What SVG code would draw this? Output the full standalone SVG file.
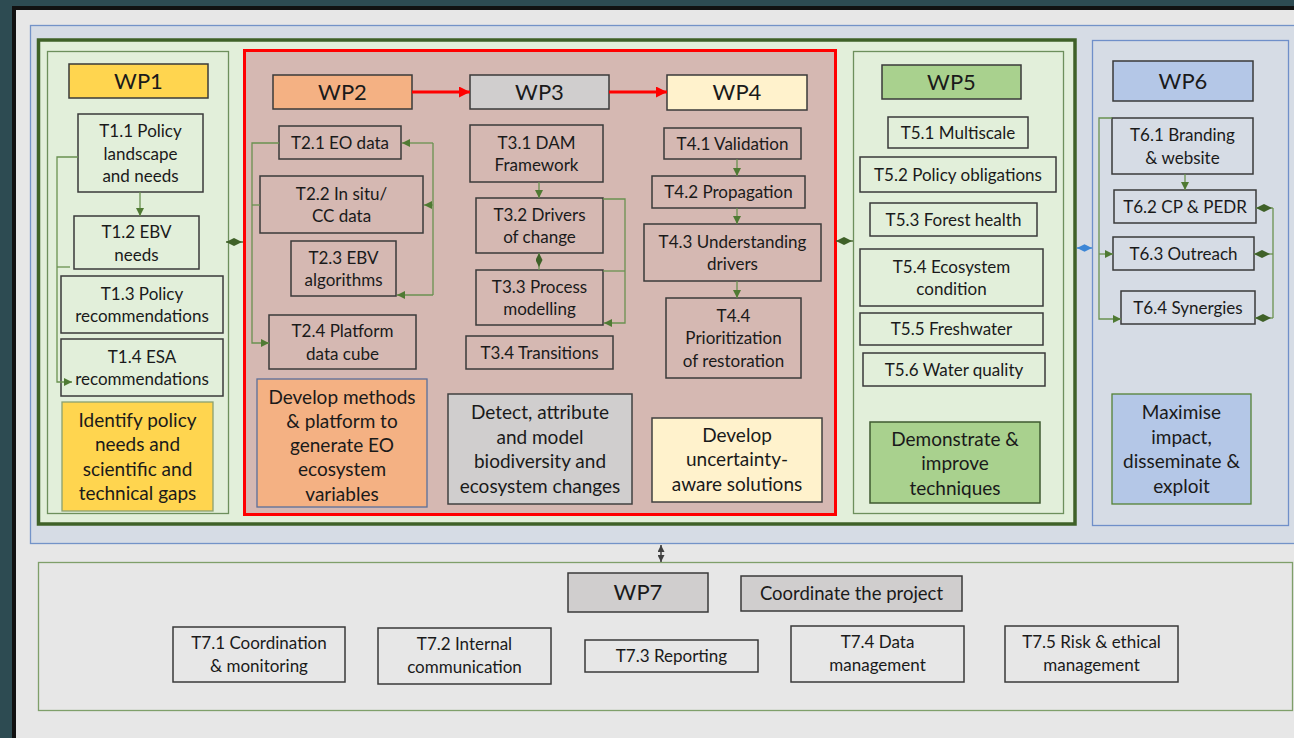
<svg xmlns="http://www.w3.org/2000/svg" width="1294" height="738" viewBox="0 0 1294 738">
<defs>
<marker id="arrG" viewBox="0 0 8 8" refX="8" refY="4" markerWidth="8" markerHeight="8" markerUnits="userSpaceOnUse" orient="auto"><path d="M0,0 L8,4 L0,8 Z" fill="#4f7a33"/></marker>
<marker id="arrR" viewBox="0 0 10 10" refX="10" refY="5" markerWidth="11" markerHeight="11" markerUnits="userSpaceOnUse" orient="auto"><path d="M0,0 L10,5 L0,10 Z" fill="#ff0000"/></marker>
<marker id="arrD" viewBox="0 0 8 8" refX="8" refY="4" markerWidth="7" markerHeight="7" markerUnits="userSpaceOnUse" orient="auto-start-reverse"><path d="M0,0 L8,4 L0,8 Z" fill="#404040"/></marker>
<marker id="diaG" viewBox="0 0 16 8" refX="0" refY="4" markerWidth="16" markerHeight="8" markerUnits="userSpaceOnUse" orient="auto"><path d="M0,4 L8,0 L16,4 L8,8 Z" fill="#3f6128"/></marker>
<marker id="diaGs" viewBox="0 0 16 8" refX="0" refY="4" markerWidth="14" markerHeight="7" markerUnits="userSpaceOnUse" orient="auto"><path d="M0,4 L8,0 L16,4 L8,8 Z" fill="#3f6128"/></marker>
<marker id="diaB" viewBox="0 0 16 8" refX="0" refY="4" markerWidth="15" markerHeight="8" markerUnits="userSpaceOnUse" orient="auto"><path d="M0,4 L8,0 L16,4 L8,8 Z" fill="#3c86d6"/></marker>
</defs>
<style>
text{font-family:Lato,"Liberation Sans",sans-serif;fill:#1a1a1a;text-anchor:middle}
.t{font-size:17px}
.g{font-size:19px}
.wp{font-size:22px}
.s{font-size:17px}
.task{fill:none;stroke:#3a3a3a;stroke-width:1.5}
.lab{stroke:#3a3a3a;stroke-width:1.5}
.con{fill:none;stroke:#6a9150;stroke-width:1.3}
</style>
<rect x="0" y="0" width="1294" height="738" fill="#2d4b52"/>
<rect x="14" y="8" width="1290" height="740" fill="#e7e7e7" stroke="#111" stroke-width="4"/>
<rect x="30.5" y="25.5" width="1275" height="518" fill="#d6dce5" stroke="#7393c8" stroke-width="1.3"/>
<rect x="38.5" y="40" width="1036.5" height="484" fill="#e2efda" stroke="#3f6128" stroke-width="3.5"/>

<g id="wp1">
<rect x="47.5" y="51.5" width="181" height="462" fill="#e2efda" stroke="#6d8f5c" stroke-width="1.3"/>
<rect class="lab" x="69" y="64" width="139" height="34" fill="#ffd54f"/>
<text class="wp" x="138.5" y="89">WP1</text>
</g>
<g id="t11"><rect class="task" x="78" y="114" width="125" height="78"/><text class="t" x="140.5" y="137">T1.1 Policy</text><text class="t" x="140.5" y="159.5">landscape</text><text class="t" x="140.5" y="182">and needs</text></g>
<g id="t12"><rect class="task" x="74" y="216" width="125" height="53"/><text class="t" x="136.5" y="238">T1.2 EBV</text><text class="t" x="136.5" y="260.5">needs</text></g>
<g id="t13"><rect class="task" x="61" y="276" width="162" height="57"/><text class="t" x="142" y="299.5">T1.3 Policy</text><text class="t" x="142" y="322">recommendations</text></g>
<g id="t14"><rect class="task" x="61" y="339" width="162" height="57"/><text class="t" x="142" y="362.5">T1.4 ESA</text><text class="t" x="142" y="385">recommendations</text></g>
<g id="goal1"><rect x="62" y="402" width="151" height="109" fill="#ffd54f" stroke="#8aa070" stroke-width="1.3"/><text class="g" x="137.5" y="426.5">Identify policy</text><text class="g" x="137.5" y="451">needs and</text><text class="g" x="137.5" y="475.5">scientific and</text><text class="g" x="137.5" y="500">technical gaps</text></g>

<g id="wp2to4">
<rect x="244.5" y="50.5" width="591" height="464" fill="#d5b8b2" stroke="#ff0000" stroke-width="3"/>
</g>
<g id="wp2"><rect class="lab" x="273" y="75" width="139" height="34" fill="#f4b183"/><text class="wp" x="342.5" y="100">WP2</text></g>
<g id="t21"><rect class="task" x="279" y="126" width="122" height="33"/><text class="t" x="340" y="148.5">T2.1 EO data</text></g>
<g id="t22"><rect class="task" x="260" y="176" width="163" height="57"/><text class="t" x="341.5" y="199.5">T2.2 In situ/</text><text class="t" x="341.5" y="222">CC data</text></g>
<g id="t23"><rect class="task" x="291" y="241" width="105" height="55"/><text class="t" x="343.5" y="263.5">T2.3 EBV</text><text class="t" x="343.5" y="286">algorithms</text></g>
<g id="t24"><rect class="task" x="269" y="315" width="147" height="54"/><text class="t" x="342.5" y="337">T2.4 Platform</text><text class="t" x="342.5" y="359.5">data cube</text></g>
<g id="goal2"><rect x="257" y="379" width="170" height="128" fill="#f4b183" stroke="#5a6f9a" stroke-width="1.3"/><text class="g" x="342" y="403.5">Develop methods</text><text class="g" x="342" y="427.75">&amp; platform to</text><text class="g" x="342" y="452">generate EO</text><text class="g" x="342" y="476.25">ecosystem</text><text class="g" x="342" y="500.5">variables</text></g>

<g id="wp3"><rect class="lab" x="470" y="75" width="139" height="34" fill="#d0cece"/><text class="wp" x="539.5" y="100">WP3</text></g>
<g id="t31"><rect class="task" x="470" y="125" width="133" height="57"/><text class="t" x="536.5" y="148.5">T3.1 DAM</text><text class="t" x="536.5" y="171">Framework</text></g>
<g id="t32"><rect class="task" x="476" y="198" width="127" height="55"/><text class="t" x="539.5" y="220.5">T3.2 Drivers</text><text class="t" x="539.5" y="243">of change</text></g>
<g id="t33"><rect class="task" x="476" y="270" width="127" height="55"/><text class="t" x="539.5" y="292.5">T3.3 Process</text><text class="t" x="539.5" y="315">modelling</text></g>
<g id="t34"><rect class="task" x="466" y="336" width="147" height="33"/><text class="t" x="539.5" y="358.5">T3.4 Transitions</text></g>
<g id="goal3"><rect x="448" y="394" width="184" height="110" fill="#d0cece" stroke="#404040" stroke-width="1.5"/><text class="g" x="540" y="419">Detect, attribute</text><text class="g" x="540" y="443.5">and model</text><text class="g" x="540" y="468">biodiversity and</text><text class="g" x="540" y="492.5">ecosystem changes</text></g>

<g id="wp4"><rect class="lab" x="667" y="75" width="140" height="35" fill="#fff2cc"/><text class="wp" x="737" y="100">WP4</text></g>
<g id="t41"><rect class="task" x="664" y="128" width="137" height="31"/><text class="t" x="732.5" y="149.5">T4.1 Validation</text></g>
<g id="t42"><rect class="task" x="652" y="176" width="153" height="32"/><text class="t" x="728.5" y="198">T4.2 Propagation</text></g>
<g id="t43"><rect class="task" x="644" y="224" width="177" height="57"/><text class="t" x="732.5" y="247.5">T4.3 Understanding</text><text class="t" x="732.5" y="270">drivers</text></g>
<g id="t44"><rect class="task" x="666" y="298" width="135" height="80"/><text class="t" x="733.5" y="321.5">T4.4</text><text class="t" x="733.5" y="344">Prioritization</text><text class="t" x="733.5" y="366.5">of restoration</text></g>
<g id="goal4"><rect x="652" y="418" width="170" height="84" fill="#fff2cc" stroke="#404040" stroke-width="1.5"/><text class="g" x="737" y="441.5">Develop</text><text class="g" x="737" y="466">uncertainty-</text><text class="g" x="737" y="490.5">aware solutions</text></g>

<g id="wp5">
<rect x="853.5" y="51.5" width="210" height="462" fill="#e2efda" stroke="#6d8f5c" stroke-width="1.3"/>
<rect class="lab" x="882" y="65" width="139" height="34" fill="#a9d18e"/><text class="wp" x="951.5" y="90">WP5</text>
</g>
<g id="t51"><rect class="task" x="888" y="117" width="140" height="31"/><text class="t" x="958" y="138.5">T5.1 Multiscale</text></g>
<g id="t52"><rect class="task" x="860" y="157" width="196" height="35"/><text class="t" x="958" y="180.5">T5.2 Policy obligations</text></g>
<g id="t53"><rect class="task" x="870" y="203" width="167" height="33"/><text class="t" x="953.5" y="225.5">T5.3 Forest health</text></g>
<g id="t54"><rect class="task" x="860" y="249" width="183" height="57"/><text class="t" x="951.5" y="272.5">T5.4 Ecosystem</text><text class="t" x="951.5" y="295">condition</text></g>
<g id="t55"><rect class="task" x="860" y="313" width="183" height="32"/><text class="t" x="951.5" y="335">T5.5 Freshwater</text></g>
<g id="t56"><rect class="task" x="863" y="353" width="182" height="33"/><text class="t" x="954" y="375.5">T5.6 Water quality</text></g>
<g id="goal5"><rect x="870" y="422" width="170" height="81" fill="#a9d18e" stroke="#3f5a30" stroke-width="1.5"/><text class="g" x="955" y="445.5">Demonstrate &amp;</text><text class="g" x="955" y="470">improve</text><text class="g" x="955" y="494.5">techniques</text></g>

<g id="wp6">
<rect x="1092.5" y="40.5" width="196" height="485" fill="#d6dce5" stroke="#6f8fc9" stroke-width="1.3"/>
<rect class="lab" x="1113" y="61" width="140" height="40" fill="#b4c7e7"/><text class="wp" x="1183" y="89">WP6</text>
</g>
<g id="t61"><rect class="task" x="1112" y="118" width="141" height="56"/><text class="t" x="1182.5" y="141">T6.1 Branding</text><text class="t" x="1182.5" y="163.5">&amp; website</text></g>
<g id="t62"><rect class="task" x="1114" y="190" width="142" height="33"/><text class="t" x="1185" y="212.5">T6.2 CP &amp; PEDR</text></g>
<g id="t63"><rect class="task" x="1113" y="237" width="141" height="33"/><text class="t" x="1183.5" y="259.5">T6.3 Outreach</text></g>
<g id="t64"><rect class="task" x="1121" y="291" width="134" height="33"/><text class="t" x="1188" y="313.5">T6.4 Synergies</text></g>
<g id="goal6"><rect x="1112" y="394" width="139" height="110" fill="#b4c7e7" stroke="#548235" stroke-width="1.3"/><text class="g" x="1181.5" y="419">Maximise</text><text class="g" x="1181.5" y="443.5">impact,</text><text class="g" x="1181.5" y="468">disseminate &amp;</text><text class="g" x="1181.5" y="492.5">exploit</text></g>

<g id="wp7">
<rect x="38.5" y="562.5" width="1254" height="148" fill="#e7e7e7" stroke="#7f9f6a" stroke-width="1.3"/>
<rect class="lab" x="568" y="573" width="140" height="39" fill="#d0cece"/><text class="wp" x="638" y="600">WP7</text>
</g>
<g id="goal7"><rect class="lab" x="741" y="576" width="221" height="35" fill="#d0cece"/><text style="font-size:18.5px" x="851.5" y="600">Coordinate the project</text></g>
<g id="t71"><rect class="task" x="173" y="627" width="172" height="55"/><text class="s" x="259" y="648.5">T7.1 Coordination</text><text class="s" x="259" y="671.5">&amp; monitoring</text></g>
<g id="t72"><rect class="task" x="378" y="628" width="173" height="56"/><text class="s" x="464.5" y="650">T7.2 Internal</text><text class="s" x="464.5" y="673">communication</text></g>
<g id="t73"><rect class="task" x="585" y="640" width="173" height="32"/><text class="s" x="671.5" y="661.5">T7.3 Reporting</text></g>
<g id="t74"><rect class="task" x="791" y="626" width="173" height="56"/><text class="s" x="877.5" y="648">T7.4 Data</text><text class="s" x="877.5" y="671">management</text></g>
<g id="t75"><rect class="task" x="1005" y="626" width="173" height="56"/><text class="s" x="1091.5" y="648">T7.5 Risk &amp; ethical</text><text class="s" x="1091.5" y="671">management</text></g>

<g id="connectors">
<path d="M412,92 H470" fill="none" stroke="#ff0000" stroke-width="3" marker-end="url(#arrR)"/>
<path d="M609,92 H667" fill="none" stroke="#ff0000" stroke-width="3" marker-end="url(#arrR)"/>
<path class="con" d="M140,192 V216" marker-end="url(#arrG)"/>
<path class="con" d="M78,157 H57 V382 H72" marker-end="url(#arrG)"/>
<path class="con" d="M57,267 H70"/>
<path class="con" d="M279,143 H252 V343 H269" marker-end="url(#arrG)"/>
<path class="con" d="M252,205 H260"/>
<path class="con" d="M433,143 V295"/>
<path class="con" d="M433,143 H402" marker-end="url(#arrG)"/>
<path class="con" d="M433,205 H424" marker-end="url(#arrG)"/>
<path class="con" d="M433,295 H397" marker-end="url(#arrG)"/>
<path class="con" d="M539,182 V198" marker-end="url(#arrG)"/>
<path class="con" d="M539,253 V270" marker-start="url(#diaGs)"/>
<path class="con" d="M603,199 H625 V323 H604" marker-end="url(#arrG)"/>
<path class="con" d="M603,271 H625"/>
<path class="con" d="M737,159 V176" marker-end="url(#arrG)"/>
<path class="con" d="M737,208 V224" marker-end="url(#arrG)"/>
<path class="con" d="M737,281 V298" marker-end="url(#arrG)"/>
<path class="con" d="M1185,174 V190" marker-end="url(#arrG)"/>
<path class="con" d="M1112,118 H1099 V319 H1121" marker-end="url(#arrG)"/>
<path class="con" d="M1099,254 H1113" marker-end="url(#arrG)"/>
<path class="con" d="M1273,208 V318"/>
<path class="con" d="M1256,208 H1273" marker-start="url(#diaG)"/>
<path class="con" d="M1254,254 H1273" marker-start="url(#diaG)"/>
<path class="con" d="M1255,318 H1273" marker-start="url(#diaG)"/>
<path d="M226,242 H243" fill="none" stroke="#3f6128" stroke-width="1.3" marker-start="url(#diaG)"/>
<path d="M836,241 H853" fill="none" stroke="#3f6128" stroke-width="1.3" marker-start="url(#diaG)"/>
<path d="M1077,248 H1092" fill="none" stroke="#3c86d6" stroke-width="1.3" marker-start="url(#diaB)"/>
<path d="M661,545 V562" fill="none" stroke="#404040" stroke-width="1.5" marker-start="url(#arrD)" marker-end="url(#arrD)"/>
</g>
</svg>
